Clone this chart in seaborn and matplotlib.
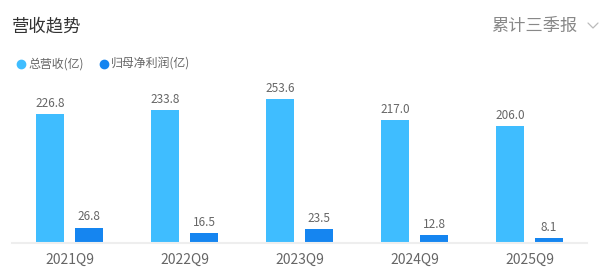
import matplotlib
matplotlib.use("Agg")
import matplotlib.pyplot as plt
import seaborn as sns
import pandas as pd
from matplotlib.lines import Line2D

categories = ["2021Q9", "2022Q9", "2023Q9", "2024Q9", "2025Q9"]
revenue = [226.8, 233.8, 253.6, 217.0, 206.0]
net_profit = [26.8, 16.5, 23.5, 12.8, 8.1]
series_names = ["总营收(亿)", "归母净利润(亿)"]
colors = ["#3FBDFF", "#1585F0"]

sns.set_theme(style="white")
plt.rcParams['font.family'] = ['Noto Sans CJK SC', 'DejaVu Sans']

df = pd.DataFrame({
    "period": categories * 2,
    "value": revenue + net_profit,
    "series": [series_names[0]] * len(categories) + [series_names[1]] * len(categories),
})

W, H = 610, 280
fig = plt.figure(figsize=(W / 100, H / 100), dpi=100)
left, right, bottom, top = 12, 587, 242.7, 80
ax = fig.add_axes([left / W, 1 - bottom / H, (right - left) / W, (bottom - top) / H])

sns.barplot(data=df, x="period", y="value", hue="series", order=categories,
            hue_order=series_names, palette=colors, width=0.678, gap=0.307,
            ax=ax, legend=False, saturation=1, edgecolor="none")

ax.set_xlim(-0.5, len(categories) - 0.5)
ax.set_ylim(0, (bottom - top) / 0.5667)
for s in ["top", "right", "left"]:
    ax.spines[s].set_visible(False)
ax.spines["bottom"].set_color("#EEEEEE")
ax.spines["bottom"].set_linewidth(1.5)
ax.set_yticks([])
ax.set_xlabel("")
ax.set_ylabel("")
ax.tick_params(axis="x", length=0, pad=7, labelsize=10, labelcolor="#666666")

for cont in ax.containers:
    ax.bar_label(cont, fmt="%.1f", padding=3, fontsize=8.5, color="#666666")

# Title and selector
fig.text(12 / W, 1 - 26 / H, "营收趋势", fontsize=12.5, color="#333333", va="center", ha="left")
fig.text(577 / W, 1 - 26 / H, "累计三季报", fontsize=12.4, color="#888888", va="center", ha="right")
fig.add_artist(Line2D([588 / W, 593 / W, 598 / W], [1 - 23 / H, 1 - 28 / H, 1 - 23 / H],
                      color="#BBBBBB", lw=0.9, transform=fig.transFigure))

# Legend
lx = [21, 104]
for i, name in enumerate(series_names):
    fig.add_artist(Line2D([lx[i] / W], [1 - 64 / H], marker="o", markersize=6,
                          color=colors[i], lw=0, transform=fig.transFigure))
    fig.text((lx[i] + 7) / W, 1 - 64 / H, name, fontsize=8.6, color="#666666",
             va="center", ha="left")

fig.savefig("out.png", dpi=100)
